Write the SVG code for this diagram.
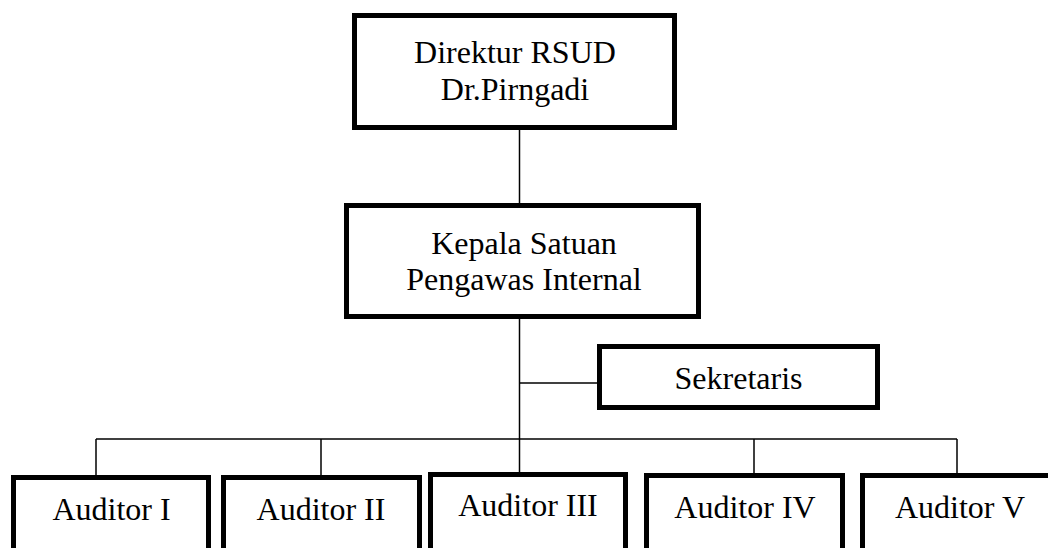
<svg xmlns="http://www.w3.org/2000/svg" width="1048" height="548" viewBox="0 0 1048 548">
<style>
.box{fill:#fff;stroke:#000;stroke-width:5}
.t{font-family:'Liberation Serif','Times New Roman',serif;font-size:32px;fill:#000;text-anchor:middle}
.c{stroke:#000;stroke-width:1.5;fill:none}
</style>
<rect width="1048" height="548" fill="#fff"/>
<g id="connectors">
<line class="c" x1="519.5" y1="128" x2="519.5" y2="206"/>
<line class="c" x1="519.5" y1="316" x2="519.5" y2="475"/>
<line class="c" x1="519.5" y1="383" x2="600" y2="383"/>
<line class="c" x1="96" y1="439" x2="957" y2="439"/>
<line class="c" x1="96" y1="439" x2="96" y2="477"/>
<line class="c" x1="321" y1="439" x2="321" y2="477"/>
<line class="c" x1="754" y1="439" x2="754" y2="475"/>
<line class="c" x1="957" y1="439" x2="957" y2="475"/>
</g>
<g id="direktur">
<rect class="box" x="354.5" y="15.5" width="320" height="112"/>
<text class="t" x="515" y="63">Direktur RSUD</text>
<text class="t" x="515" y="100">Dr.Pirngadi</text>
</g>
<g id="kepala">
<rect class="box" x="346.5" y="205.5" width="352" height="111"/>
<text class="t" x="524" y="254">Kepala Satuan</text>
<text class="t" x="524" y="290">Pengawas Internal</text>
</g>
<g id="sekretaris">
<rect class="box" x="599.5" y="346.5" width="278" height="61"/>
<text class="t" x="738.5" y="389">Sekretaris</text>
</g>
<g id="auditor1">
<rect class="box" x="13.5" y="477.5" width="195" height="80"/>
<text class="t" x="111.5" y="520">Auditor I</text>
</g>
<g id="auditor2">
<rect class="box" x="223.5" y="477.5" width="196" height="80"/>
<text class="t" x="321" y="520">Auditor II</text>
</g>
<g id="auditor3">
<rect class="box" x="430.5" y="474.5" width="195" height="80"/>
<text class="t" x="528" y="516">Auditor III</text>
</g>
<g id="auditor4">
<rect class="box" x="646.5" y="475.5" width="196" height="80"/>
<text class="t" x="745" y="518">Auditor IV</text>
</g>
<g id="auditor5">
<rect class="box" x="862.5" y="475.5" width="200" height="80"/>
<text class="t" x="960" y="518">Auditor V</text>
</g>
</svg>
